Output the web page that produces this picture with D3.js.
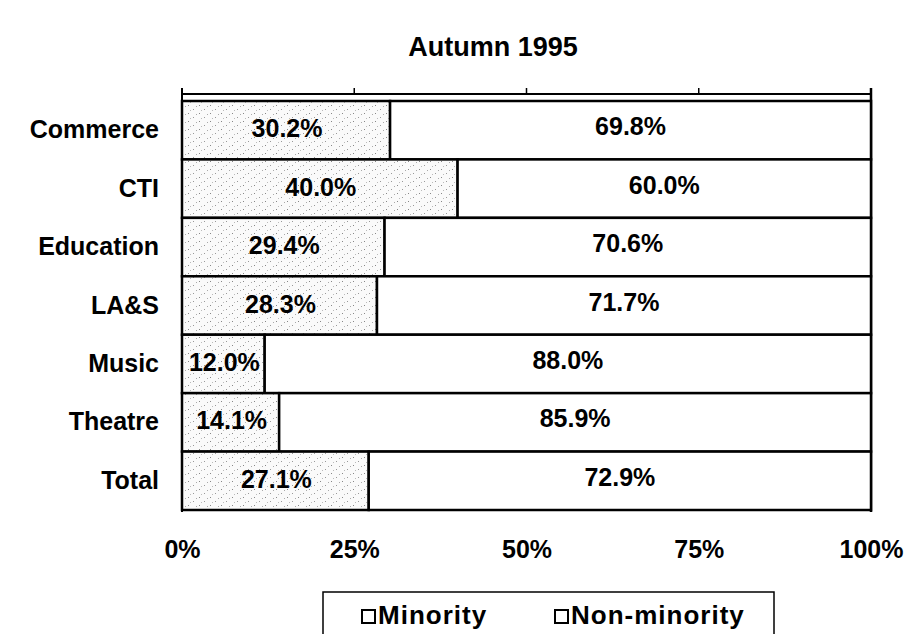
<!DOCTYPE html>
<html><head><meta charset="utf-8">
<script src="https://cdn.jsdelivr.net/npm/d3@7"></script>
<style>body{margin:0;background:#fff}svg{display:block}text{font-family:"Liberation Sans",Arial,sans-serif;font-weight:bold;fill:#000}</style>
</head><body>
<script>
const categories = ["Commerce","CTI","Education","LA&S","Music","Theatre","Total"];
const minority = [30.2,40.0,29.4,28.3,12.0,14.1,27.1];
const nonMinority = [69.8,60.0,70.6,71.7,88.0,85.9,72.9];
const tickValues = [0,25,50,75,100];
const seriesNames = ["Minority","Non-minority"];

const W=915,H=634;
const svg=d3.select("body").append("svg").attr("width",W).attr("height",H);
const defs=svg.append("defs");
const pat=defs.append("pattern").attr("id","stip").attr("patternUnits","userSpaceOnUse").attr("width",11).attr("height",8);
pat.append("rect").attr("width",11).attr("height",8).attr("fill","#fafafa");
pat.append("rect").attr("x",1).attr("y",1).attr("width",1).attr("height",1).attr("fill","#888");
pat.append("rect").attr("x",6).attr("y",5).attr("width",1).attr("height",1).attr("fill","#999");
pat.append("rect").attr("x",9).attr("y",2).attr("width",1).attr("height",1).attr("fill","#aaa");
pat.append("rect").attr("x",3).attr("y",6).attr("width",1).attr("height",1).attr("fill","#bbb");

const x=d3.scaleLinear().domain([0,100]).range([182,871]);
const y=d3.scaleBand().domain(categories).range([101,510]).paddingInner(0).paddingOuter(0);

svg.append("text").attr("x",493).attr("y",56).attr("text-anchor","middle").style("font-size","27px").text("Autumn 1995");

// frame lines
const g=svg.append("g");
g.append("line").attr("x1",x(0)).attr("x2",x(100)).attr("y1",94).attr("y2",94).attr("stroke","#000").attr("stroke-width",2);
g.append("line").attr("x1",x(0)).attr("x2",x(0)).attr("y1",88).attr("y2",512).attr("stroke","#000").attr("stroke-width",2);
g.append("line").attr("x1",x(100)).attr("x2",x(100)).attr("y1",88).attr("y2",512).attr("stroke","#000").attr("stroke-width",2.5);
g.selectAll(".tk").data(tickValues).join("line").attr("x1",d=>x(d)).attr("x2",d=>x(d)).attr("y1",88).attr("y2",94).attr("stroke","#000").attr("stroke-width",1.5);

const rows=categories.map((c,i)=>({c,m:minority[i],n:nonMinority[i]}));
const bar=svg.selectAll(".row").data(rows).join("g");
bar.append("rect").attr("x",x(0)).attr("y",d=>y(d.c)).attr("width",d=>x(d.m)-x(0)).attr("height",y.bandwidth())
  .attr("fill","url(#stip)").attr("stroke","#000").attr("stroke-width",2.5);
bar.append("rect").attr("x",d=>x(d.m)).attr("y",d=>y(d.c)).attr("width",d=>x(d.m+d.n)-x(d.m)).attr("height",y.bandwidth())
  .attr("fill","#fff").attr("stroke","#000").attr("stroke-width",2.5);
bar.append("text").attr("x",d=>(x(0)+x(d.m))/2+1).attr("y",d=>y(d.c)+y.bandwidth()/2+7).attr("text-anchor","middle").style("font-size","25px").text(d=>d.m.toFixed(1)+"%");
bar.append("text").attr("x",d=>(x(d.m)+x(100))/2).attr("y",d=>y(d.c)+y.bandwidth()/2+5).attr("text-anchor","middle").style("font-size","25px").text(d=>d.n.toFixed(1)+"%");

// y labels
svg.selectAll(".yl").data(categories).join("text").attr("x",159).attr("y",d=>y(d)+y.bandwidth()/2+8).attr("text-anchor","end").style("font-size","25px").text(d=>d);

// x axis labels
const xa=svg.append("g").attr("transform","translate(0,510)").call(d3.axisBottom(x).tickValues(tickValues).tickFormat(d=>d+"%").tickSize(0).tickPadding(30));
xa.select(".domain").remove();
xa.selectAll("text").style("font-size","25px").style("font-family","'Liberation Sans',Arial,sans-serif").style("font-weight","bold").attr("fill","#000");

// legend
const lg=svg.append("g");
lg.append("rect").attr("x",323).attr("y",592).attr("width",451).attr("height",60).attr("fill","#fff").attr("stroke","#000").attr("stroke-width",1.5);
const lx=[362,555];
seriesNames.forEach((s,i)=>{
  lg.append("rect").attr("x",lx[i]).attr("y",610).attr("width",13).attr("height",13).attr("fill","#fff").attr("stroke","#000").attr("stroke-width",2);
  lg.append("text").attr("x",lx[i]+16).attr("y",624).style("font-size","26px").style("letter-spacing","1px").text(s);
});
</script>
</body></html>
